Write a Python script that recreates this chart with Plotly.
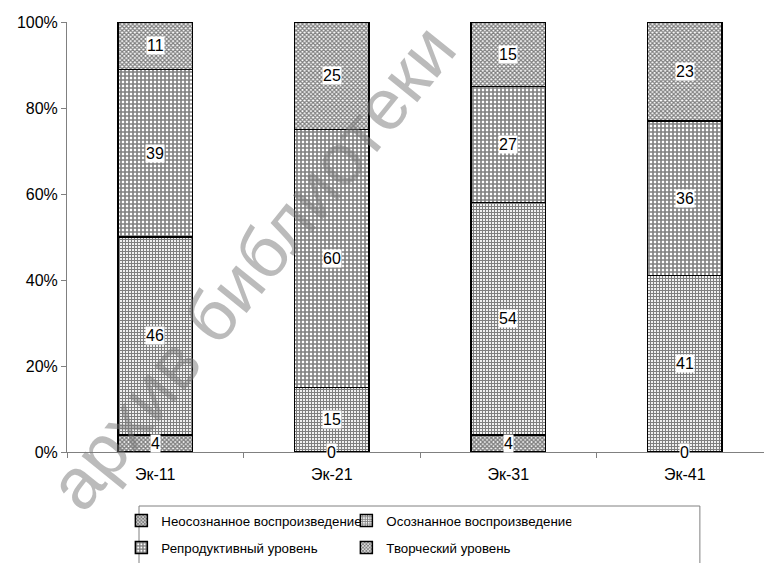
import plotly.graph_objects as go

categories = ["Эк-11", "Эк-21", "Эк-31", "Эк-41"]
series_names = ["Неосознанное воспроизведение", "Осознанное воспроизведение",
                "Репродуктивный уровень", "Творческий уровень"]
unconscious = [4, 0, 4, 0]
conscious = [46, 15, 54, 41]
reproductive = [39, 60, 27, 36]
creative = [11, 25, 15, 23]
y_ticks = [0, 20, 40, 60, 80, 100]
y_tick_labels = ["0%", "20%", "40%", "60%", "80%", "100%"]
grid_ticks = [20, 40, 60, 80]

series_values = [unconscious, conscious, reproductive, creative]
patterns = [
    dict(shape="x", size=3, solidity=0.7),
    dict(shape="+", size=3, solidity=0.65),
    dict(shape="+", size=4, solidity=0.65),
    dict(shape="x", size=3, solidity=0.65),
]
legend_ids = ["legend", "legend", "legend2", "legend2"]

FONT = "Liberation Sans, Arial, sans-serif"
fig = go.Figure()
for name, vals, pat, lg in zip(series_names, series_values, patterns, legend_ids):
    fig.add_trace(go.Bar(
        x=categories, y=vals, name=name, width=0.42, legend=lg,
        marker=dict(color="white", line=dict(color="black", width=1.5),
                    pattern=dict(fgcolor="black", bgcolor="white", **pat)),
        hoverinfo="skip",
    ))

# data labels
annotations = []
for ci, cat in enumerate(categories):
    base = 0
    for vals in series_values:
        v = vals[ci]
        annotations.append(dict(
            x=cat, y=base + v / 2, xref="x", yref="y", text=str(v), showarrow=False,
            font=dict(family=FONT, size=16, color="black"), bgcolor="white", borderpad=0,
        ))
        base += v

# watermark
annotations.append(dict(
    x=0.265, y=0.43, xref="paper", yref="paper", xanchor="center", yanchor="middle",
    text="архив библиотеки", showarrow=False, textangle=-51,
    font=dict(family=FONT, size=72, color="rgba(120,120,120,0.5)"),
))

fig.update_layout(
    width=764, height=563,
    margin=dict(l=67, r=0, t=22, b=111, autoexpand=False),
    paper_bgcolor="white", plot_bgcolor="white",
    barmode="stack",
    font=dict(family=FONT, size=16, color="black"),
    xaxis=dict(type="category", range=[-0.5, 3.449], showgrid=False,
               showline=True, linecolor="#808080", linewidth=1,
               ticks="outside", tickson="boundaries", ticklen=5, tickcolor="#808080",
               ticklabelstandoff=8,
               tickfont=dict(family=FONT, size=16), fixedrange=True),
    yaxis=dict(range=[0, 100], tickmode="array", tickvals=y_ticks, ticktext=y_tick_labels,
               showgrid=False,
               showline=True, linecolor="#808080", linewidth=1, zeroline=False,
               ticks="outside", ticklen=5, tickcolor="#808080",
               tickfont=dict(family=FONT, size=16), fixedrange=True),
    yaxis2=dict(range=[0, 100], overlaying="y", tickvals=grid_ticks, showticklabels=False,
                showgrid=True, gridcolor="#606060", gridwidth=1, showline=False,
                zeroline=False, ticks="", fixedrange=True, layer="below traces"),
    legend=dict(orientation="h", x=0.078, xanchor="left", y=-0.16, yanchor="middle",
                entrywidth=180, bgcolor="rgba(0,0,0,0)", borderwidth=0,
                font=dict(family=FONT, size=13.3), traceorder="normal"),
    legend2=dict(orientation="h", x=0.078, xanchor="left", y=-0.223, yanchor="middle",
                 entrywidth=180, bgcolor="rgba(0,0,0,0)", borderwidth=0,
                 font=dict(family=FONT, size=13.3), traceorder="normal"),
    shapes=[dict(type="rect", xref="paper", yref="paper", x0=0.1033, x1=0.908,
                 y0=-0.1256, y1=-0.29, line=dict(color="#808080", width=1),
                 fillcolor="rgba(0,0,0,0)", layer="above")],
    annotations=annotations,
    showlegend=True,
)

fig.write_html("out.html")
